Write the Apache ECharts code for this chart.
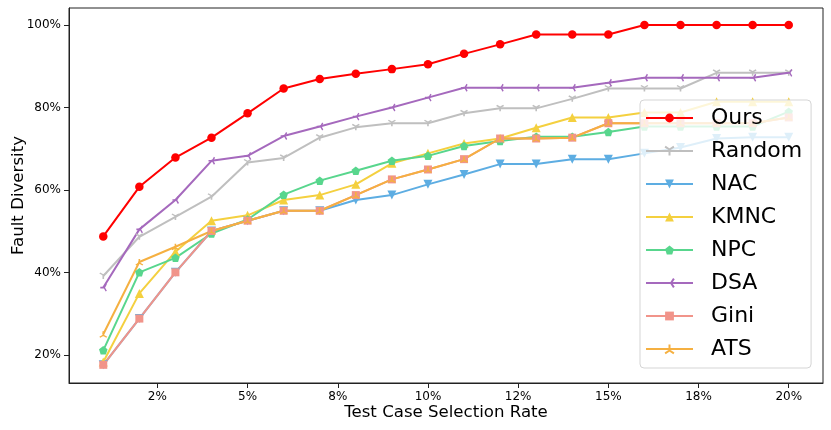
<!DOCTYPE html>
<html>
<head>
<meta charset="utf-8">
<script src="https://cdn.jsdelivr.net/npm/echarts@6/dist/echarts.min.js"></script>
<style>
html,body{margin:0;padding:0;background:#fff;}
#chart{width:831px;height:430px;}
</style>
</head>
<body>
<div id="chart"></div>
<script>
// selection rates (%)
const rates = [1,2,3,4,5,6,7,8,9,10,11,12,13,14,15,16,17,18,19,20];

const ours   = [48.8,60.8,67.9,72.7,78.6,84.6,86.9,88.2,89.3,90.5,93.0,95.3,97.7,97.7,97.7,100,100,100,100,100];
const random = [39.2,48.7,53.5,58.4,66.7,67.8,72.7,75.2,76.2,76.2,78.6,79.8,79.8,82.1,84.6,84.6,84.6,88.4,88.4,88.4];
const nac    = [17.7,28.9,40.1,50.1,52.6,55.0,55.0,57.6,58.8,61.4,63.8,66.3,66.3,67.5,67.5,68.9,70.3,72.5,72.8,72.8];
const kmnc   = [18.4,35.0,45.1,52.6,53.9,57.6,58.8,61.4,66.5,68.9,71.3,72.5,75.1,77.6,77.6,78.8,78.8,81.4,81.4,81.4];
const npc    = [21.2,40.1,43.6,49.5,52.9,58.9,62.3,64.7,67.1,68.3,70.7,71.9,72.9,72.9,74.1,75.4,75.4,75.4,75.4,79.0];
const dsa    = [36.4,50.5,57.6,67.1,68.3,73.1,75.4,77.8,80.0,82.4,84.8,84.8,84.8,84.8,86.0,87.2,87.2,87.2,87.2,88.4];
const gini   = [17.7,28.9,40.1,50.1,52.6,55.0,55.0,58.8,62.6,65.0,67.5,72.5,72.5,72.7,76.2,76.2,76.2,76.2,76.2,77.6];
const ats    = [25.1,42.6,46.3,50.1,52.6,55.0,55.0,58.8,62.6,65.0,67.5,72.5,72.5,72.7,76.2,76.2,76.2,76.2,76.2,77.6];

const xTickValues = [2.5,5,7.5,10,12.5,15,17.5,20];
const xTickLabels = ['2%','5%','8%','10%','12%','15%','18%','20%'];
const yTickValues = [20,40,60,80,100];
const yTickLabels = ['20%','40%','60%','80%','100%'];

const names  = ['Ours','Random','NAC','KMNC','NPC','DSA','Gini','ATS'];
const values = [ours, random, nac, kmnc, npc, dsa, gini, ats];
const colors = ['#FF0000','#BFBFBF','#5DADE2','#F4D03F','#58D68D','#A569BD','#F1948A','#F5B041'];

const TRI_DOWN  = 'path://M0,0 L0,1 M0,0 L-0.866,-0.5 M0,0 L0.866,-0.5';
const TRI_UP    = 'path://M0,0 L0,-1 M0,0 L-0.866,0.5 M0,0 L0.866,0.5';
const TRI_LEFT  = 'path://M0,0 L-1,0 M0,0 L0.5,-0.866 M0,0 L0.5,0.866';
const PENTAGON  = 'path://M0,-1 L0.951,-0.309 L0.588,0.809 L-0.588,0.809 L-0.951,-0.309 Z';

const markers = [
  {symbol:'circle', size:8.5},
  {symbol:TRI_DOWN, size:[7,6], stroke:true},
  {symbol:'triangle', size:9, rotate:180},
  {symbol:'triangle', size:9},
  {symbol:PENTAGON, size:8.5},
  {symbol:TRI_LEFT, size:[6,7], stroke:true},
  {symbol:'rect', size:8},
  {symbol:TRI_UP, size:[7,6], stroke:true}
];

const series = names.map((n, i) => {
  const m = markers[i];
  return {
    name: n,
    type: 'line',
    data: rates.map((r, k) => [r, values[i][k]]),
    symbol: m.symbol,
    symbolSize: m.size,
    symbolRotate: m.rotate || 0,
    showAllSymbol: true,
    lineStyle: {color: colors[i], width: 2},
    itemStyle: m.stroke
      ? {color: colors[i], borderColor: colors[i], borderWidth: 1.5, opacity: 1}
      : {color: colors[i], borderWidth: 0, opacity: 1},
    emphasis: {disabled: true},
    animation: false
  };
});

const chart = echarts.init(document.getElementById('chart'), null, {renderer: 'canvas'});
chart.setOption({
  animation: false,
  backgroundColor: '#fff',
  textStyle: {fontFamily: 'DejaVu Sans'},
  grid: {left: 69, right: 8, top: 8, bottom: 47, containLabel: false, outerBoundsMode: 'none',
         show: true, borderColor: '#222', borderWidth: 1, backgroundColor: 'transparent'},
  legend: {
    data: names,
    orient: 'vertical',
    left: 640,
    top: 100,
    itemWidth: 47,
    itemHeight: 11,
    itemGap: 11,
    padding: [7, 9, 8, 5],
    backgroundColor: 'rgba(255,255,255,0.8)',
    borderColor: '#d5d5d5',
    borderWidth: 1,
    borderRadius: 4,
    textStyle: {fontSize: 22, lineHeight: 22, color: '#000', fontFamily: 'DejaVu Sans', padding: [0, 0, 0, 13]},
    selectedMode: false
  },
  xAxis: {
    type: 'value',
    min: 0.05,
    max: 20.95,
    name: 'Test Case Selection Rate',
    nameLocation: 'middle',
    nameGap: 21,
    nameMoveOverlap: false,
    nameTextStyle: {fontSize: 16.6, color: '#000', fontFamily: 'DejaVu Sans', verticalAlign: 'top'},
    splitLine: {show: false},
    axisLine: {show: true, onZero: false, lineStyle: {color: '#222', width: 1}},
    axisTick: {show: true, length: 5, customValues: xTickValues, lineStyle: {color: '#222', width: 1}},
    axisLabel: {
      customValues: xTickValues,
      margin: 8,
      fontSize: 12,
      color: '#000',
      fontFamily: 'DejaVu Sans',
      formatter: v => { const i = xTickValues.indexOf(v); return i >= 0 ? xTickLabels[i] : ''; }
    }
  },
  yAxis: {
    type: 'value',
    min: 13.3,
    max: 104.1,
    name: 'Fault Diversity',
    nameLocation: 'middle',
    nameGap: 42,
    nameMoveOverlap: false,
    nameTextStyle: {fontSize: 16.6, color: '#000', fontFamily: 'DejaVu Sans'},
    splitLine: {show: false},
    axisLine: {show: true, onZero: false, lineStyle: {color: '#222', width: 1}},
    axisTick: {show: true, length: 5, customValues: yTickValues, lineStyle: {color: '#222', width: 1}},
    axisLabel: {
      customValues: yTickValues,
      margin: 8,
      fontSize: 12,
      color: '#000',
      fontFamily: 'DejaVu Sans',
      formatter: v => { const i = yTickValues.indexOf(v); return i >= 0 ? yTickLabels[i] : ''; }
    }
  },
  series: series
});
</script>
</body>
</html>
